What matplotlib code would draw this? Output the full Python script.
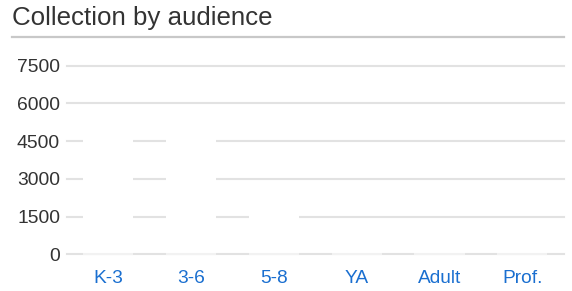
import matplotlib
matplotlib.use("Agg")
import matplotlib.pyplot as plt
from matplotlib.lines import Line2D

categories = ["K-3", "3-6", "5-8", "YA", "Adult", "Prof."]
values = [5200, 5000, 2200, 800, 600, 400]
yticks = [0, 1500, 3000, 4500, 6000, 7500]
title = "Collection by audience"

plt.rcParams['font.family'] = ['Liberation Sans', 'DejaVu Sans']

fig = plt.figure(figsize=(5.72, 2.91), dpi=100)
fig.patch.set_facecolor('white')

W, H = 572, 291
left, right = 67, 563.7
y0, y7500 = 254.3, 65.7
ax = fig.add_axes([left / W, 1 - y0 / H, (right - left) / W, (y0 - y7500) / H])

ax.set_ylim(0, 7500)
ax.set_xlim(-0.5, len(categories) - 0.5)
ax.set_yticks(yticks)
ax.yaxis.grid(True, color='#e2e2e2', linewidth=1.5, clip_on=False)
ax.set_axisbelow(True)

x = list(range(len(categories)))
bw = 0.605
ax.bar(x, values, width=bw, color='white', edgecolor='none', zorder=2,
       clip_on=False)
ax.hlines([0] * len(x), [i - bw / 2 for i in x], [i + bw / 2 for i in x],
          color='#f2f2f2', linewidth=1.5, zorder=3, clip_on=False)

ax.set_xticks(x)
ax.set_xticklabels(categories)
for s in ax.spines.values():
    s.set_visible(False)
ax.tick_params(axis='both', length=0)
ax.tick_params(axis='y', labelsize=13.9, labelcolor='#333333', pad=5)
ax.tick_params(axis='x', labelsize=13.8, labelcolor='#1a6fd0', pad=11)

fig.text(12 / W, 1 - 25.5 / H, title, fontsize=18.6, color='#333333',
         ha='left', va='baseline')
fig.add_artist(Line2D([12 / W, 563.7 / W], [1 - 36.5 / H, 1 - 36.5 / H],
                      color='#c8c8c8', linewidth=1.6, transform=fig.transFigure))

fig.savefig('out.png', dpi=100, facecolor='white')
